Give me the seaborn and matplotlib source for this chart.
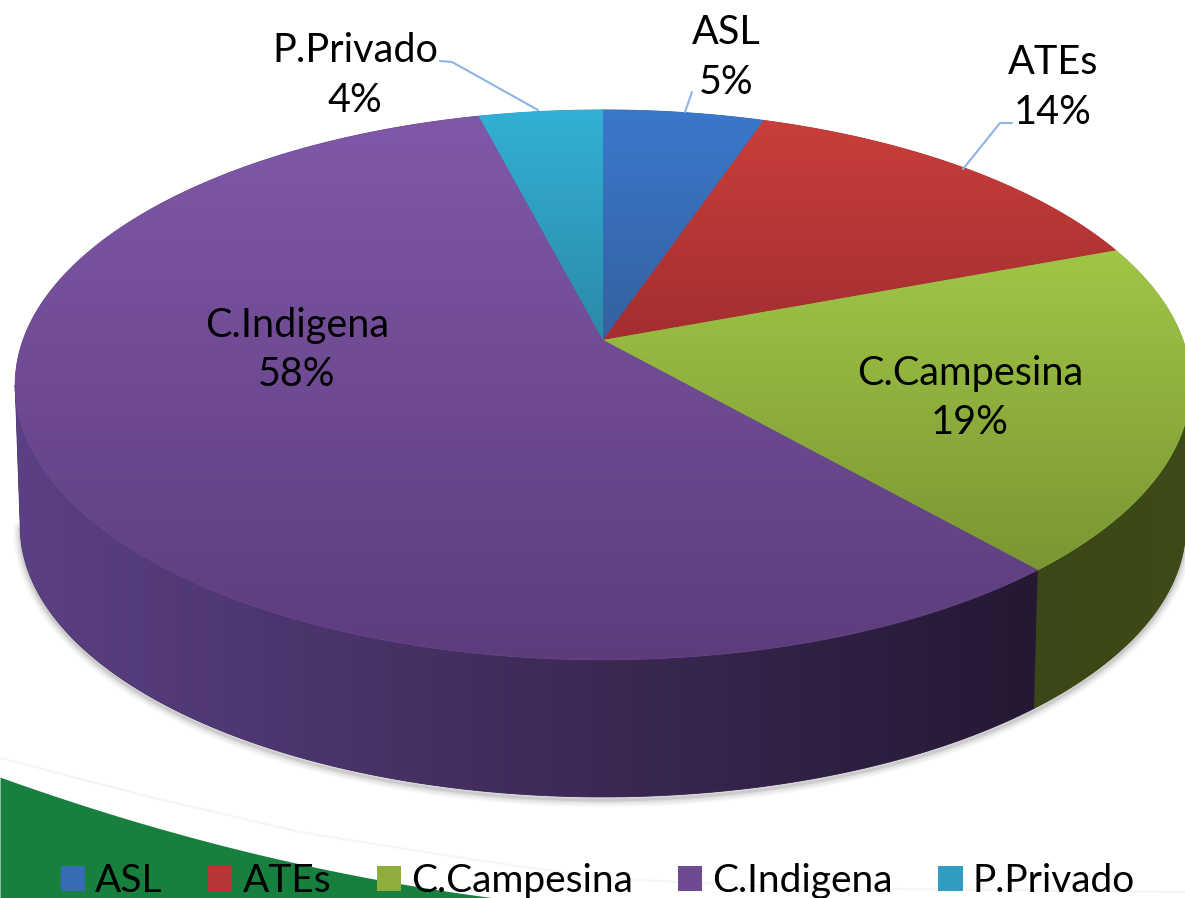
import numpy as np
import matplotlib
matplotlib.use("Agg")
import matplotlib.pyplot as plt
import seaborn as sns
from matplotlib.patches import Polygon, Patch

categories = ["ASL", "ATEs", "C.Campesina", "C.Indigena", "P.Privado"]
values = [5.2, 14.1, 19.4, 57.6, 4.0]

# top / bottom colour of each slice
top_colors = ["#3a78cc", "#c83f3a", "#a0c646", "#8058a8", "#33b0d6"]
bottom_colors = ["#35619f", "#a32e30", "#7a9634", "#5c3d7c", "#2a8aa8"]
# left / right colour of the visible side wall
side_left = {"C.Campesina": "#3a4716", "C.Indigena": "#5b4083"}
side_right = {"C.Campesina": "#3d4b18", "C.Indigena": "#241832"}

sns.set_theme(style="white")
plt.rcParams["font.family"] = ["Lato", "DejaVu Sans"]

W, H = 1185, 898
fig = plt.figure(figsize=(W / 100, H / 100), dpi=100)
ax = fig.add_axes([0, 0, 1, 1])

wedges, _ = ax.pie(values, startangle=90, counterclock=False)
angles = [(w.theta1, w.theta2) for w in wedges]
for w in wedges:
    w.remove()
ax.set(xlim=(0, W), ylim=(H, 0), aspect="auto")
ax.axis("off")

# perspective of the tilted disc
K = 0.163
CX = 603
# angles where the rim is widest, the wall is only seen between them
LEFT_T = -180 + np.degrees(np.arcsin(K))
RIGHT_T = -np.degrees(np.arcsin(K))


def rim(t1, t2, cy, rx, ry, n=200):
    t = np.radians(np.linspace(t1, t2, n))
    w = 1 + K * np.sin(t)
    return np.column_stack([CX + rx * np.cos(t) / w, cy - ry * np.sin(t) / w])


TOP = dict(cy=340, rx=580, ry=267.6)
BASE = dict(cy=482, rx=575, ry=263.6)


def gradient_fill(points, cmap, horizontal=False, zorder=2):
    # solid polygon first so there are no gaps, gradient image clipped on it
    poly = Polygon(points, closed=True, fc=cmap(0.5), ec=cmap(0.5), lw=0.6, zorder=zorder)
    ax.add_patch(poly)
    ramp = np.linspace(0, 1, 256)
    ramp = ramp[None, :] if horizontal else ramp[:, None]
    x0, y0 = points.min(axis=0)
    x1, y1 = points.max(axis=0)
    im = ax.imshow(ramp, cmap=cmap, extent=(x0, x1, y1, y0), aspect="auto",
                   origin="upper", zorder=zorder + 0.1, interpolation="bilinear")
    im.set_clip_path(poly)


# background band
band_x = np.array([0, 150, 270, 380, 495])
band_y = np.array([777, 826, 857, 880, 898])
xs = np.linspace(0, 495, 100)
ax.fill_between(xs, np.polyval(np.polyfit(band_x, band_y, 2), xs), H, color="#17803f", lw=0, zorder=0)
line_x = np.array([0, 150, 300, 450, 600, 800, 1185])
line_y = np.array([758, 797, 832, 856, 878, 888, 892])
ax.plot(line_x, line_y, color="#f5f5f5", lw=1.5, zorder=0)

# soft shadow below the base
shadow = rim(LEFT_T, RIGHT_T, BASE["cy"] + 3, BASE["rx"], BASE["ry"])
for lw, alpha in zip([10, 7, 4, 2], [0.05, 0.07, 0.09, 0.12]):
    ax.plot(shadow[:, 0], shadow[:, 1], color="#555555", lw=lw, alpha=alpha, zorder=1)

# side walls
for name, (t1, t2) in zip(categories, angles):
    if name not in side_left:
        continue
    a, b = max(t1, LEFT_T), min(t2, RIGHT_T)
    pts = np.vstack([rim(a, b, **TOP), rim(b, a, **BASE)])
    cmap = sns.blend_palette([side_left[name], side_right[name]], as_cmap=True)
    gradient_fill(pts, cmap, horizontal=True, zorder=2)

# top face
for name, (t1, t2), c0, c1 in zip(categories, angles, top_colors, bottom_colors):
    pts = np.vstack([[CX, TOP["cy"]], rim(t1, t2, **TOP)])
    cmap = sns.blend_palette([c0, c1], as_cmap=True)
    gradient_fill(pts, cmap, zorder=3)

ax.set(xlim=(0, W), ylim=(H, 0))

# leader lines
leader = dict(color="#8db4e2", lw=1.5, zorder=4, solid_capstyle="round")
ax.plot([440, 452, 538], [61, 62, 110], **leader)
ax.plot([692, 685], [92, 112], **leader)
ax.plot([1012, 1000, 963], [123, 123, 169], **leader)

# data labels
label_pos = {
    "ASL": (726, 32),
    "ATEs": (1053, 62),
    "C.Campesina": (970, 373),
    "C.Indigena": (297, 325),
    "P.Privado": (355, 50),
}
FS = 28.5
for name, val in zip(categories, values):
    x, y = label_pos[name]
    ax.text(x, y, name, ha="center", va="center", fontsize=FS, color="black", zorder=5)
    ax.text(x, y + 50, f"{val:.0f}%", ha="center", va="center", fontsize=FS, color="black", zorder=5)

# legend
handles = [Patch(fc=sns.blend_palette([a, b], 3)[1], ec="none") for a, b in zip(top_colors, bottom_colors)]
leg = ax.legend(handles, categories, ncol=5, loc="lower center", bbox_to_anchor=(598 / W, -0.023),
                frameon=False, fontsize=28, handlelength=0.62, handleheight=0.62,
                handletextpad=0.26, columnspacing=1.17, borderpad=0, labelcolor="black")
leg.set_zorder(6)

fig.savefig("out.png", dpi=100)
